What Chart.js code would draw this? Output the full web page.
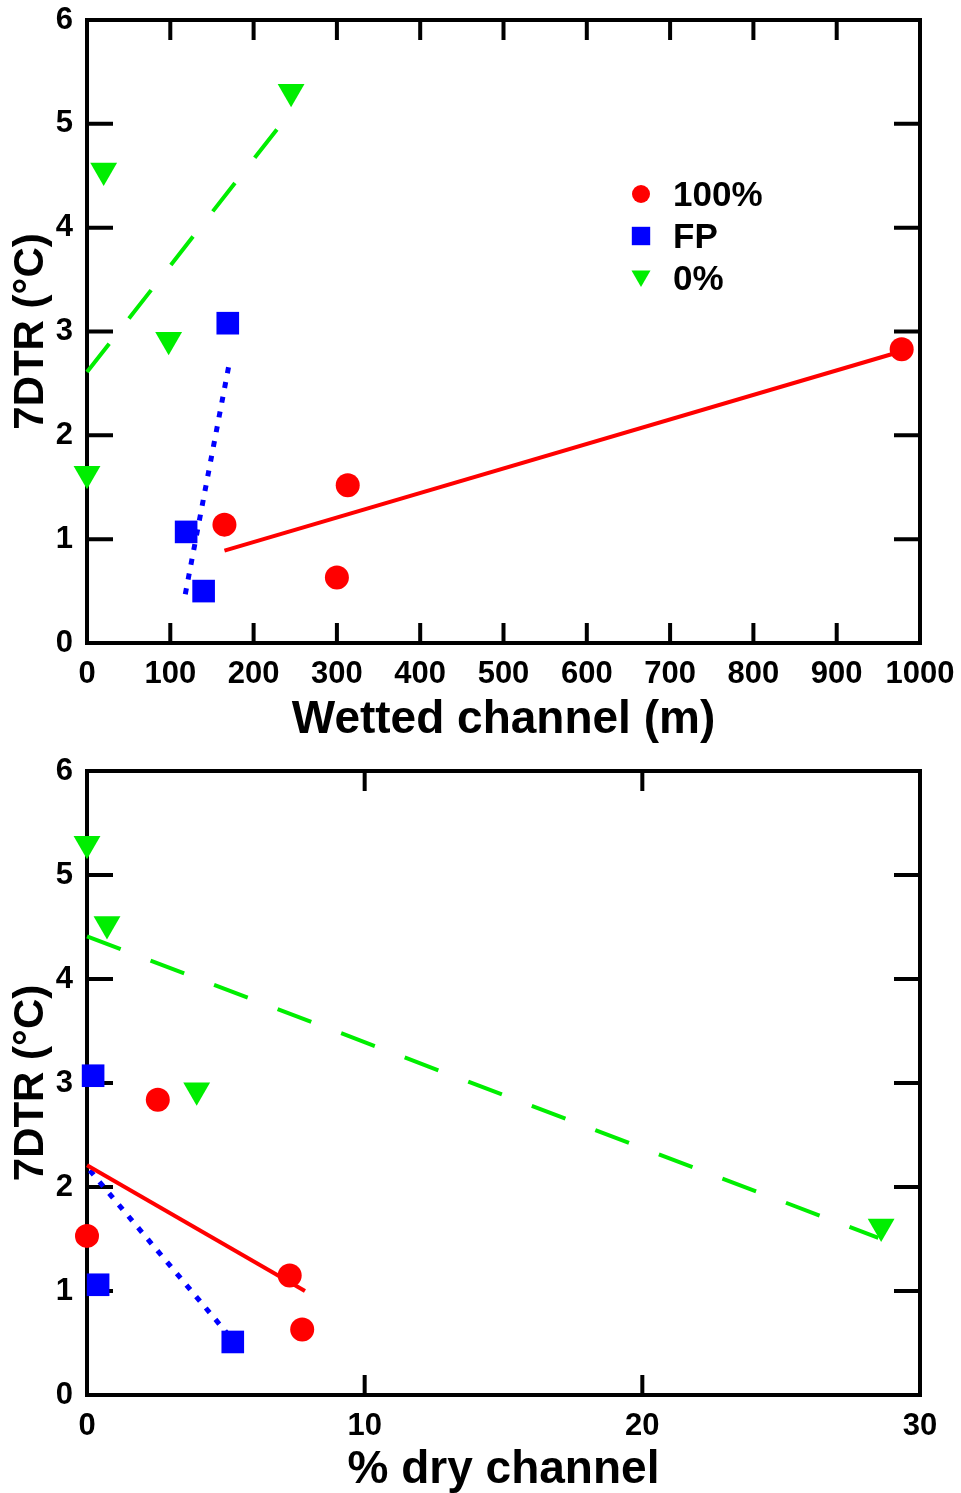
<!DOCTYPE html>
<html>
<head>
<meta charset="utf-8">
<script src="https://cdn.jsdelivr.net/npm/chart.js@4.4.1/dist/chart.umd.min.js"></script>
<style>
  html, body { margin: 0; padding: 0; background: #fff; }
  .panel { position: relative; width: 961px; }
  #top-panel { height: 746px; }
  #bottom-panel { height: 747px; }
</style>
</head>
<body>
<div class="panel" id="top-panel"><canvas id="wetted-chart"></canvas></div>
<div class="panel" id="bottom-panel"><canvas id="dry-chart"></canvas></div>
<script>
const seriesLabels = ['100%', 'FP', '0%'];
const seriesColors = ['#ff0000', '#0000ff', '#00ee00'];
const yTicks = [0, 1, 2, 3, 4, 5, 6];

// top panel: wetted channel length (m)
const wettedTicks = [0, 100, 200, 300, 400, 500, 600, 700, 800, 900, 1000];
const wetted100X = [165, 300, 313, 978];
const wetted100Y = [1.14, 0.63, 1.52, 2.83];
const wettedFPX = [119, 140, 169];
const wettedFPY = [1.07, 0.50, 3.08];
const wetted0X = [0, 20, 98, 245];
const wetted0Y = [1.63, 4.55, 2.92, 5.31];
const wettedFit100X = [165, 978];
const wettedFit100Y = [0.89, 2.81];
const wettedFitFPX = [118, 170];
const wettedFitFPY = [0.47, 2.66];
const wettedFit0X = [0, 245];
const wettedFit0Y = [2.61, 5.12];

// bottom panel: % dry channel
const dryTicks = [0, 10, 20, 30];
const dry100X = [0, 2.55, 7.3, 7.75];
const dry100Y = [1.53, 2.84, 1.15, 0.63];
const dryFPX = [0.22, 0.4, 5.25];
const dryFPY = [3.07, 1.06, 0.51];
const dry0X = [0, 0.72, 3.95, 28.6];
const dry0Y = [5.3, 4.53, 2.93, 1.62];
const dryFit100X = [0, 7.85];
const dryFit100Y = [2.21, 1.0];
const dryFitFPX = [0.1, 5.15];
const dryFitFPY = [2.16, 0.56];
const dryFit0X = [0, 28.5];
const dryFit0Y = [4.41, 1.51];

const FONT = '"Liberation Sans", Arial, sans-serif';
const markerStyles = ['circle', 'rect', 'triangle'];
const markerRadius = [12, 16, 15.5];
const lineDashes = [[], [6, 9], [36, 32]];
const lineWidths = [4, 5, 4];

function zip(xs, ys) {
    return xs.map((x, i) => ({ x: x, y: ys[i] }));
}

function pointSet(i, xs, ys) {
    return {
        type: 'scatter',
        label: seriesLabels[i],
        data: zip(xs, ys),
        pointStyle: markerStyles[i],
        pointRadius: markerRadius[i],
        pointRotation: i === 2 ? 180 : 0,
        backgroundColor: seriesColors[i],
        borderColor: seriesColors[i],
        pointBorderWidth: 0,
        clip: false,
        order: 1
    };
}

function fitSet(i, xs, ys) {
    return {
        type: 'line',
        data: zip(xs, ys),
        borderColor: seriesColors[i],
        borderWidth: lineWidths[i],
        borderDash: lineDashes[i],
        borderCapStyle: 'butt',
        pointRadius: 0,
        fill: false,
        clip: false,
        order: 2
    };
}

// box round the plot with inward tick marks on all four sides
const framePlugin = {
    id: 'frame',
    beforeDatasetsDraw(chart) {
        const { ctx, chartArea: a, scales } = chart;
        ctx.save();
        ctx.strokeStyle = '#000';
        ctx.lineWidth = 4;
        ctx.strokeRect(a.left, a.top, a.right - a.left, a.bottom - a.top);
        ctx.beginPath();
        scales.x.ticks.forEach(t => {
            const px = scales.x.getPixelForValue(t.value);
            ctx.moveTo(px, a.bottom); ctx.lineTo(px, a.bottom - 20);
            ctx.moveTo(px, a.top); ctx.lineTo(px, a.top + 20);
        });
        scales.y.ticks.forEach(t => {
            const py = scales.y.getPixelForValue(t.value);
            ctx.moveTo(a.left, py); ctx.lineTo(a.left + 26, py);
            ctx.moveTo(a.right, py); ctx.lineTo(a.right - 26, py);
        });
        ctx.stroke();
        ctx.restore();
    }
};

const legendPlugin = {
    id: 'insetLegend',
    afterDraw(chart) {
        const ctx = chart.ctx;
        const sizes = [9, 13, 11];
        ctx.save();
        seriesLabels.forEach((label, i) => {
            const y = 194 + i * 42;
            ctx.fillStyle = seriesColors[i];
            Chart.helpers.drawPoint(ctx, {
                pointStyle: markerStyles[i],
                radius: sizes[i],
                rotation: i === 2 ? 180 : 0,
                borderWidth: 0
            }, 641, i === 2 ? y - 2 : y);
            ctx.fillStyle = '#000';
            ctx.font = 'bold 35px ' + FONT;
            ctx.textBaseline = 'middle';
            ctx.textAlign = 'left';
            ctx.fillText(label, 673, y + 2);
        });
        ctx.restore();
    }
};

function panelOptions(xTicks, xTitle, areaTop, areaBottom, canvasHeight, titlePad) {
    return {
        responsive: true,
        maintainAspectRatio: false,
        animation: false,
        layout: { padding: { top: areaTop, right: 41, left: 0, bottom: 0 } },
        plugins: { legend: { display: false }, tooltip: { enabled: false } },
        scales: {
            x: {
                type: 'linear',
                min: xTicks[0],
                max: xTicks[xTicks.length - 1],
                afterBuildTicks: s => { s.ticks = xTicks.map(v => ({ value: v })); },
                afterFit: s => {
                    s.height = canvasHeight - areaBottom;
                    s.paddingLeft = 0;
                    s.paddingRight = 0;
                },
                grid: { display: false, drawTicks: false },
                border: { display: false },
                ticks: { color: '#000', padding: 13, maxRotation: 0, autoSkip: false,
                         callback: v => String(v),
                         font: { family: FONT, size: 31, weight: 'bold' } },
                title: { display: true, text: xTitle, color: '#000', padding: { top: 0, bottom: titlePad },
                         font: { family: FONT, size: 46, weight: 'bold', lineHeight: 1 } }
            },
            y: {
                type: 'linear',
                min: 0,
                max: 6,
                afterBuildTicks: s => { s.ticks = yTicks.map(v => ({ value: v })); },
                afterFit: s => {
                    s.width = 87;
                    s.paddingTop = 0;
                    s.paddingBottom = 0;
                },
                grid: { display: false, drawTicks: false },
                border: { display: false },
                ticks: { color: '#000', padding: 14,
                         font: { family: FONT, size: 31, weight: 'bold' } },
                title: { display: true, text: '7DTR (°C)', color: '#000', padding: { top: 6, bottom: 0 },
                         font: { family: FONT, size: 42, weight: 'bold' } }
            }
        }
    };
}

new Chart(document.getElementById('wetted-chart'), {
    type: 'scatter',
    data: {
        datasets: [
            fitSet(0, wettedFit100X, wettedFit100Y),
            fitSet(1, wettedFitFPX, wettedFitFPY),
            fitSet(2, wettedFit0X, wettedFit0Y),
            pointSet(0, wetted100X, wetted100Y),
            pointSet(1, wettedFPX, wettedFPY),
            pointSet(2, wetted0X, wetted0Y)
        ]
    },
    options: panelOptions(wettedTicks, 'Wetted channel (m)', 20, 643, 746, 3),
    plugins: [framePlugin, legendPlugin]
});

new Chart(document.getElementById('dry-chart'), {
    type: 'scatter',
    data: {
        datasets: [
            fitSet(0, dryFit100X, dryFit100Y),
            fitSet(1, dryFitFPX, dryFitFPY),
            fitSet(2, dryFit0X, dryFit0Y),
            pointSet(0, dry100X, dry100Y),
            pointSet(1, dryFPX, dryFPY),
            pointSet(2, dry0X, dry0Y)
        ]
    },
    options: panelOptions(dryTicks, '% dry channel', 25, 649, 747, 0),
    plugins: [framePlugin]
});
</script>
</body>
</html>
